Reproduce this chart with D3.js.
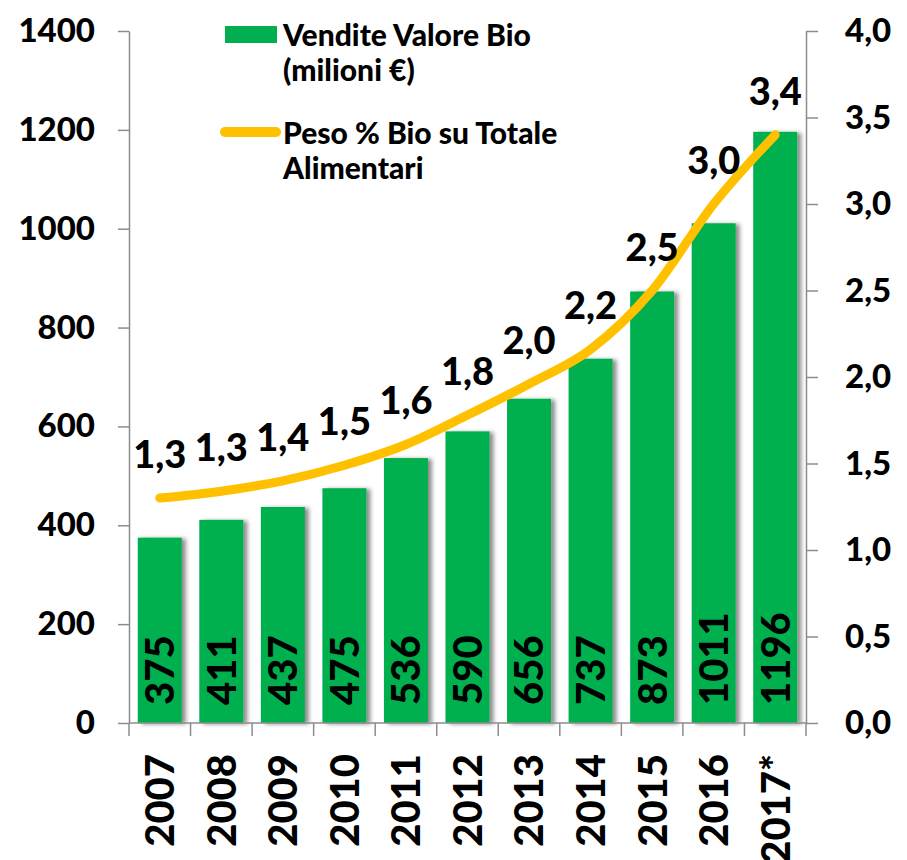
<!DOCTYPE html>
<html>
<head>
<meta charset="utf-8">
<script src="https://cdn.jsdelivr.net/npm/d3@7"></script>
<style>
  body { margin: 0; background: #fff; }
  svg { display: block; font-family: Lato, "Open Sans", sans-serif; font-weight: 900; }
</style>
</head>
<body>
<svg id="chart" width="907" height="860"></svg>
<script>
// Data
const years = ['2007', '2008', '2009', '2010', '2011', '2012', '2013', '2014', '2015', '2016', '2017*'];
const sales = [375, 411, 437, 475, 536, 590, 656, 737, 873, 1011, 1196];
// share of organic on total food (%), labels show one decimal
const share = [1.30, 1.34, 1.40, 1.49, 1.61, 1.78, 1.96, 2.16, 2.50, 3.00, 3.40];
const leftTicks = [0, 200, 400, 600, 800, 1000, 1200, 1400];
const rightTicks = [0, 0.5, 1.0, 1.5, 2.0, 2.5, 3.0, 3.5, 4.0];
const legendBar = ['Vendite Valore Bio', '(milioni €)'];
const legendLine = ['Peso % Bio su Totale', 'Alimentari'];

const green = '#00B050';
const yellow = '#FFC000';
const axisColor = '#8c8c8c';

const svg = d3.select('#chart');
const plotLeft = 129, plotRight = 806, plotTop = 31, plotBottom = 723;

const x = d3.scaleBand().domain(years).range([plotLeft, plotRight]).paddingInner(0.285).paddingOuter(0.1425);
const yL = d3.scaleLinear().domain([0, 1400]).range([plotBottom, plotTop]);
const yR = d3.scaleLinear().domain([0, 4]).range([plotBottom, plotTop]);
const fmt = d => d.toFixed(1).replace('.', ',');

// drop shadow for bars
const defs = svg.append('defs');
const filter = defs.append('filter').attr('id', 'shadow')
  .attr('x', '-20%').attr('y', '-20%').attr('width', '150%').attr('height', '140%');
filter.append('feDropShadow')
  .attr('dx', 4).attr('dy', 1).attr('stdDeviation', 2)
  .attr('flood-color', '#000').attr('flood-opacity', 0.45);

// bars
svg.append('g').selectAll('rect')
  .data(sales)
  .join('rect')
  .attr('x', (d, i) => x(years[i]))
  .attr('y', d => yL(d))
  .attr('width', x.bandwidth())
  .attr('height', d => plotBottom - yL(d))
  .attr('fill', green)
  .style('filter', 'url(#shadow)');

// left axis
const gL = svg.append('g').attr('transform', `translate(${plotLeft},0)`)
  .call(d3.axisLeft(yL).tickValues(leftTicks).tickFormat(d3.format('d'))
    .tickSize(11).tickPadding(23).tickSizeOuter(0));
// right axis
const gR = svg.append('g').attr('transform', `translate(${plotRight},0)`)
  .call(d3.axisRight(yR).tickValues(rightTicks).tickFormat(fmt)
    .tickSize(12).tickPadding(27).tickSizeOuter(0));

[gL, gR].forEach(g => {
  g.select('.domain').attr('stroke', axisColor).attr('stroke-width', 1.5);
  g.selectAll('.tick line').attr('stroke', axisColor).attr('stroke-width', 1.5);
  g.selectAll('.tick text')
    .attr('fill', '#000')
    .style('font-family', 'Lato, sans-serif')
    .style('font-weight', 900)
    .style('font-size', '33px');
});

// x axis baseline and ticks at band boundaries
const step = x.step();
const gX = svg.append('g');
gX.append('line')
  .attr('x1', plotLeft).attr('x2', plotRight).attr('y1', plotBottom).attr('y2', plotBottom)
  .attr('stroke', axisColor).attr('stroke-width', 1.5);
gX.selectAll('line.tk')
  .data(d3.range(years.length + 1))
  .join('line')
  .attr('class', 'tk')
  .attr('x1', i => plotLeft + i * step).attr('x2', i => plotLeft + i * step)
  .attr('y1', plotBottom).attr('y2', plotBottom + 13)
  .attr('stroke', axisColor).attr('stroke-width', 1.5);

// year labels, rotated
const fsBig = 40;
gX.selectAll('text')
  .data(years)
  .join('text')
  .attr('transform', d => `translate(${x(d) + x.bandwidth() / 2 + fsBig * 0.36},754) rotate(-90)`)
  .attr('text-anchor', 'end')
  .style('font-size', fsBig + 'px')
  .text(d => d);

// value labels inside bars
svg.append('g').selectAll('text')
  .data(sales)
  .join('text')
  .attr('transform', (d, i) => `translate(${x(years[i]) + x.bandwidth() / 2 + fsBig * 0.36},705) rotate(-90)`)
  .attr('text-anchor', 'start')
  .style('font-size', fsBig + 'px')
  .text(d => d);

// share line
const cx = i => x(years[i]) + x.bandwidth() / 2;
const line = d3.line()
  .x((d, i) => cx(i))
  .y(d => yR(d))
  .curve(d3.curveCardinal.tension(0));
svg.append('path')
  .datum(share)
  .attr('d', line)
  .attr('fill', 'none')
  .attr('stroke', yellow)
  .attr('stroke-width', 9)
  .attr('stroke-linecap', 'round');

// share labels
svg.append('g').selectAll('text')
  .data(share)
  .join('text')
  .attr('x', (d, i) => cx(i))
  .attr('y', d => yR(d) - 30)
  .attr('text-anchor', 'middle')
  .style('font-size', '38px')
  .text(fmt);

// legend
const lg = svg.append('g').style('font-size', '30px').style('font-weight', 900);
lg.append('rect').attr('x', 225).attr('y', 26).attr('width', 52).attr('height', 17).attr('fill', green);
lg.selectAll('text.a').data(legendBar).join('text').attr('class', 'a')
  .attr('x', 283).attr('y', (d, i) => 46 + i * 35).text(d => d);
lg.append('line').attr('x1', 225).attr('x2', 276).attr('y1', 132).attr('y2', 132)
  .attr('stroke', yellow).attr('stroke-width', 10).attr('stroke-linecap', 'round');
lg.selectAll('text.b').data(legendLine).join('text').attr('class', 'b')
  .attr('x', 283).attr('y', (d, i) => 144 + i * 35).text(d => d);
</script>
</body>
</html>
